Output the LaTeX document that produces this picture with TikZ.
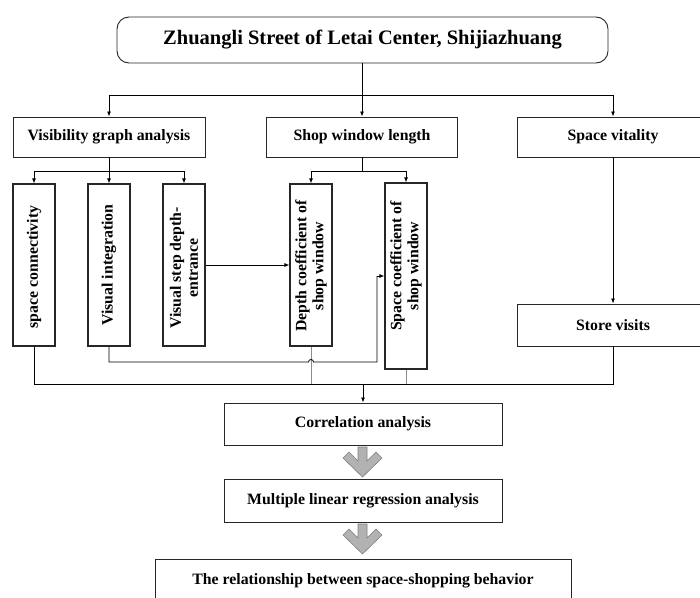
\documentclass[tikz,border=0pt]{standalone}
\usepackage{fontspec}
\setmainfont{Liberation Serif}
\usetikzlibrary{arrows.meta}
\begin{document}
\begin{tikzpicture}[x=1pt,y=-1pt,
  box/.style={draw=black!85, line width=0.9pt, fill=white, inner sep=0pt, align=center, font=\bfseries\fontsize{15.8}{18}\selectfont},
  vbox/.style={draw=black!85, line width=1.2pt, fill=white, minimum width=42pt, inner sep=0pt},
  vtext/.style={rotate=90, align=center, inner sep=0pt, font=\bfseries\fontsize{15.8}{17}\selectfont},
  ln/.style={draw=black, line width=0.85pt},
  gln/.style={draw=black!45, line width=0.9pt},
  arr/.style={ln, -{Latex[length=5pt,width=4pt]}},
  bigarr/.style={fill=black!30, draw=black!50, line width=0.6pt}
]
\useasboundingbox (0,0) rectangle (700,597);
% top
\node[box, rounded corners=12pt, minimum width=491pt, minimum height=46pt, font=\bfseries\fontsize{20.5}{22}\selectfont] (title) at (362.5,40) {Zhuangli Street of Letai Center, Shijiazhuang};
% level 2
\node[box, minimum width=192pt, minimum height=40pt] (vga) at (109,137) {Visibility graph analysis};
\node[box, minimum width=191pt, minimum height=40pt] (swl) at (362,137) {Shop window length};
\node[box, minimum width=192pt, minimum height=40pt] (sv) at (613,137) {Space vitality};
\node[box, minimum width=192pt, minimum height=42pt] (store) at (613,325) {Store visits};
% vertical boxes
\node[vbox, minimum height=162pt] (sc) at (34,265) {};
\node[vtext] (sct) at (34,267) {space connectivity};
\node[vbox, minimum height=162pt] (vi) at (109,265) {};
\node[vtext] (vit) at (109,265) {Visual integration};
\node[vbox, minimum height=162pt] (vs) at (184,265) {};
\node[vtext] (vst) at (184,268) {Visual step depth-\\entrance};
\node[vbox, minimum height=162pt] (dc) at (311,265) {};
\node[vtext] (dct) at (311,266) {Depth coefficient of\\shop window};
\node[vbox, minimum height=186pt] (spc) at (406,276) {};
\node[vtext] (spct) at (406,266) {Space coefficient of\\shop window};
% bottom boxes
\node[box, minimum width=278pt, minimum height=42pt] (corr) at (363,424) {Correlation analysis};
\node[box, minimum width=278pt, minimum height=43pt] (mlr) at (363,500.5) {Multiple linear regression analysis};
\node[box, minimum width=416pt, minimum height=50pt, text depth=0pt] (rel) at (363,584) {\raisebox{9pt}{The relationship between space-shopping behavior}};
% connectors from title
\coordinate (b1) at (362.5,95);
\draw[ln] (title.south) -- (b1);
\draw[arr] (b1) -- (b1 -| swl.north) -- (swl.north);
\draw[arr] (b1) -| (vga.north);
\draw[arr] (b1) -| (sv.north);
% from vga
\coordinate (b2) at (109,171);
\draw[ln] (vga.south) -- (b2);
\draw[arr] (b2) -| (sc.north);
\draw[arr] (b2) -- (vi.north);
\draw[arr] (b2) -| (vs.north);
% from swl
\coordinate (b3) at (362,171);
\draw[ln] (swl.south) -- (b3);
\draw[arr] (b3) -| (dc.north);
\draw[arr] (b3) -| (spc.north);
% space vitality to store visits
\draw[arr] (sv.south) -- (store.north);
% visual step -> depth
\draw[arr] (vs.east) -- (dc.west);
% bus at bottom
\coordinate (bus) at (363,384);
\draw[gln] (dc.south) -- (dc.south |- bus);
\draw[gln] (spc.south) -- (spc.south |- bus);
\draw[ln] (sc.south) |- (store.south |- bus) -- (store.south);
\draw[arr] (bus) -- (corr.north);
% visual integration -> space coefficient, with hop over depth line
\coordinate (v1) at (109,362);
\coordinate (v2) at (377,362);
\draw[ln] (vi.south) -- (v1) -- (308.5,362) arc[start angle=180, end angle=0, radius=2.5pt] -- (v2) -- (v2 |- spc.west);
\draw[arr] (v2 |- spc.west) -- (spc.west);
% big grey arrows
\foreach \o in {0,77}{
  \draw[bigarr] (358,447+\o) -- (358,461+\o) -- (349,452+\o) -- (343,458+\o) -- (362.5,477+\o) -- (382,458+\o) -- (376,452+\o) -- (367,461+\o) -- (367,447+\o) -- cycle;
}
\end{tikzpicture}
\end{document}
